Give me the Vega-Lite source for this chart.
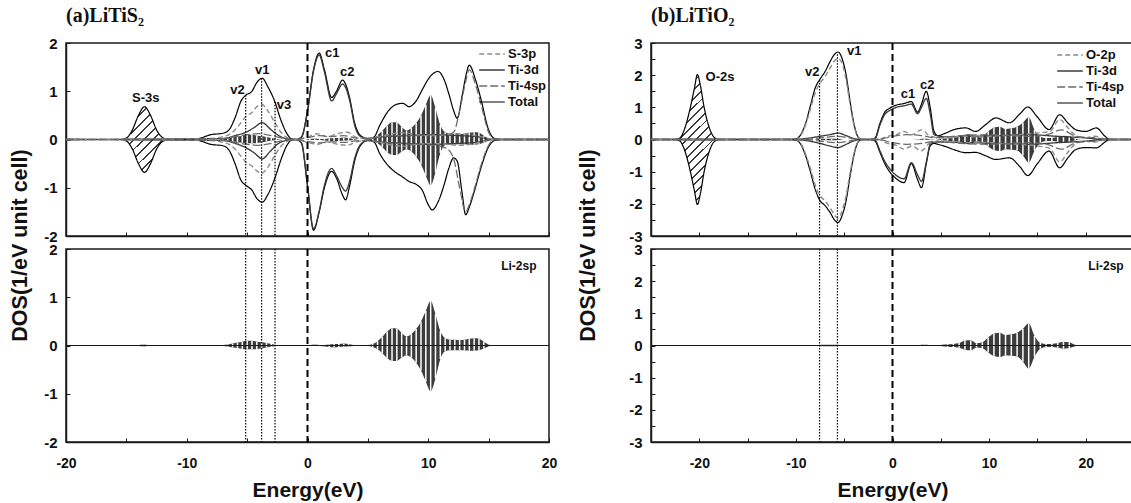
{
"$schema":"https://vega.github.io/schema/vega-lite/v6.json",
"background":"white",
"padding":{"left":8,"top":5,"right":0,"bottom":0},
"config":{
 "font":"Liberation Sans",
 "view":{"stroke":"#1a1a1a","strokeWidth":1.5},
 "axis":{"grid":false,"domainColor":"#1a1a1a","domainWidth":1.5,"tickColor":"#1a1a1a","tickWidth":1,"labelFont":"Liberation Sans","labelFontWeight":"bold","labelColor":"#111","labelFlush":false,"labelOverlap":false,"titleFont":"Liberation Sans","titleFontWeight":"bold","titleColor":"#111"},
 "legend":{"orient":"top-right","offset":2,"padding":0,"labelFont":"Liberation Sans","labelFontWeight":"bold","labelFontSize":13,"labelColor":"#111","symbolType":"M-1.6,0L1.6,0","symbolSize":256,"rowPadding":0,"labelOffset":7}
},
"datasets":{
 "ap":[
  {"x":-20,"s":"Total","u":0,"d":0},{"x":-15.5,"s":"Total","u":0,"d":0},{"x":-15,"s":"Total","u":0.03,"d":-0.03},{"x":-14.5,"s":"Total","u":0.2,"d":-0.2},{"x":-14,"s":"Total","u":0.5,"d":-0.5},{"x":-13.5,"s":"Total","u":0.68,"d":-0.68},{"x":-13,"s":"Total","u":0.5,"d":-0.5},{"x":-12.5,"s":"Total","u":0.2,"d":-0.2},{"x":-12,"s":"Total","u":0.04,"d":-0.04},{"x":-11.5,"s":"Total","u":0,"d":0},{"x":-9.5,"s":"Total","u":0,"d":0},{"x":-9,"s":"Total","u":0.02,"d":-0.02},{"x":-8,"s":"Total","u":0.1,"d":-0.1},{"x":-7,"s":"Total","u":0.13,"d":-0.13},{"x":-6.5,"s":"Total","u":0.2,"d":-0.22},{"x":-6,"s":"Total","u":0.45,"d":-0.5},{"x":-5.5,"s":"Total","u":0.8,"d":-0.85},{"x":-5.1,"s":"Total","u":0.92,"d":-0.95},{"x":-4.6,"s":"Total","u":1.0,"d":-1.05},{"x":-4.2,"s":"Total","u":1.18,"d":-1.22},{"x":-3.75,"s":"Total","u":1.27,"d":-1.3},{"x":-3.3,"s":"Total","u":1.1,"d":-1.15},{"x":-2.7,"s":"Total","u":0.78,"d":-0.8},{"x":-2.2,"s":"Total","u":0.4,"d":-0.42},{"x":-1.7,"s":"Total","u":0.12,"d":-0.12},{"x":-1.3,"s":"Total","u":0.01,"d":-0.01},{"x":-0.9,"s":"Total","u":0,"d":0},{"x":-0.5,"s":"Total","u":0.05,"d":-0.08},{"x":0,"s":"Total","u":0.6,"d":-0.97},{"x":0.5,"s":"Total","u":1.45,"d":-1.88},{"x":0.97,"s":"Total","u":1.79,"d":-1.5},{"x":1.4,"s":"Total","u":1.45,"d":-1.0},{"x":2,"s":"Total","u":0.87,"d":-0.66},{"x":2.4,"s":"Total","u":1.0,"d":-0.8},{"x":2.9,"s":"Total","u":1.23,"d":-1.15},{"x":3.15,"s":"Total","u":1.15,"d":-1.25},{"x":3.5,"s":"Total","u":0.85,"d":-0.95},{"x":3.9,"s":"Total","u":0.35,"d":-0.45},{"x":4.4,"s":"Total","u":0.08,"d":-0.12},{"x":5,"s":"Total","u":0.02,"d":-0.02},{"x":5.5,"s":"Total","u":0.05,"d":-0.05},{"x":6,"s":"Total","u":0.3,"d":-0.3},{"x":6.75,"s":"Total","u":0.61,"d":-0.56},{"x":7.4,"s":"Total","u":0.73,"d":-0.7},{"x":7.9,"s":"Total","u":0.75,"d":-0.78},{"x":8.4,"s":"Total","u":0.68,"d":-0.87},{"x":9,"s":"Total","u":0.8,"d":-0.93},{"x":9.5,"s":"Total","u":1.03,"d":-1.05},{"x":10,"s":"Total","u":1.25,"d":-1.35},{"x":10.33,"s":"Total","u":1.35,"d":-1.46},{"x":10.8,"s":"Total","u":1.41,"d":-1.3},{"x":11.3,"s":"Total","u":1.25,"d":-0.95},{"x":11.7,"s":"Total","u":0.95,"d":-0.6},{"x":12.1,"s":"Total","u":0.6,"d":-0.38},{"x":12.4,"s":"Total","u":0.44,"d":-0.45},{"x":12.8,"s":"Total","u":0.9,"d":-1.1},{"x":13.1,"s":"Total","u":1.3,"d":-1.56},{"x":13.4,"s":"Total","u":1.54,"d":-1.4},{"x":13.9,"s":"Total","u":1.25,"d":-1.0},{"x":14.35,"s":"Total","u":0.85,"d":-0.6},{"x":15,"s":"Total","u":0.2,"d":-0.15},{"x":15.5,"s":"Total","u":0.02,"d":-0.02},{"x":16,"s":"Total","u":0,"d":0},{"x":20,"s":"Total","u":0,"d":0},
  {"x":-20,"s":"Ti-3d","u":0,"d":0},{"x":-7,"s":"Ti-3d","u":0.02,"d":-0.02},{"x":-6,"s":"Ti-3d","u":0.08,"d":-0.08},{"x":-5.1,"s":"Ti-3d","u":0.15,"d":-0.17},{"x":-4.4,"s":"Ti-3d","u":0.25,"d":-0.28},{"x":-3.75,"s":"Ti-3d","u":0.35,"d":-0.4},{"x":-3.1,"s":"Ti-3d","u":0.22,"d":-0.25},{"x":-2.5,"s":"Ti-3d","u":0.1,"d":-0.1},{"x":-1.8,"s":"Ti-3d","u":0.02,"d":-0.02},{"x":-1,"s":"Ti-3d","u":0,"d":0},{"x":-0.5,"s":"Ti-3d","u":0.05,"d":-0.07},{"x":0,"s":"Ti-3d","u":0.58,"d":-0.95},{"x":0.5,"s":"Ti-3d","u":1.42,"d":-1.85},{"x":0.97,"s":"Ti-3d","u":1.75,"d":-1.48},{"x":1.4,"s":"Ti-3d","u":1.4,"d":-0.95},{"x":2,"s":"Ti-3d","u":0.8,"d":-0.6},{"x":2.4,"s":"Ti-3d","u":0.95,"d":-0.75},{"x":2.9,"s":"Ti-3d","u":1.15,"d":-1.0},{"x":3.15,"s":"Ti-3d","u":1.08,"d":-1.07},{"x":3.5,"s":"Ti-3d","u":0.8,"d":-0.85},{"x":3.9,"s":"Ti-3d","u":0.3,"d":-0.4},{"x":4.4,"s":"Ti-3d","u":0.06,"d":-0.1},{"x":5,"s":"Ti-3d","u":0.02,"d":-0.02},{"x":6,"s":"Ti-3d","u":0.05,"d":-0.05},{"x":8,"s":"Ti-3d","u":0.08,"d":-0.08},{"x":10.5,"s":"Ti-3d","u":0.1,"d":-0.1},{"x":12.5,"s":"Ti-3d","u":0.08,"d":-0.08},{"x":14,"s":"Ti-3d","u":0.06,"d":-0.06},{"x":15.5,"s":"Ti-3d","u":0,"d":0},{"x":20,"s":"Ti-3d","u":0,"d":0},
  {"x":-20,"s":"S-3p","u":0,"d":0},{"x":-8,"s":"S-3p","u":0.02,"d":-0.02},{"x":-7,"s":"S-3p","u":0.06,"d":-0.06},{"x":-6.5,"s":"S-3p","u":0.1,"d":-0.1},{"x":-6,"s":"S-3p","u":0.2,"d":-0.2},{"x":-5.5,"s":"S-3p","u":0.35,"d":-0.35},{"x":-5.1,"s":"S-3p","u":0.48,"d":-0.47},{"x":-4.6,"s":"S-3p","u":0.56,"d":-0.55},{"x":-4.2,"s":"S-3p","u":0.68,"d":-0.65},{"x":-3.8,"s":"S-3p","u":0.73,"d":-0.7},{"x":-3.3,"s":"S-3p","u":0.6,"d":-0.58},{"x":-2.7,"s":"S-3p","u":0.35,"d":-0.33},{"x":-2.2,"s":"S-3p","u":0.15,"d":-0.14},{"x":-1.6,"s":"S-3p","u":0.03,"d":-0.03},{"x":-1,"s":"S-3p","u":0,"d":0},{"x":0,"s":"S-3p","u":0.05,"d":-0.06},{"x":0.8,"s":"S-3p","u":0.12,"d":-0.1},{"x":1.6,"s":"S-3p","u":0.06,"d":-0.05},{"x":2.5,"s":"S-3p","u":0.12,"d":-0.1},{"x":3.3,"s":"S-3p","u":0.15,"d":-0.12},{"x":4,"s":"S-3p","u":0.05,"d":-0.05},{"x":5,"s":"S-3p","u":0.02,"d":-0.02},{"x":6,"s":"S-3p","u":0.06,"d":-0.06},{"x":7,"s":"S-3p","u":0.12,"d":-0.12},{"x":8,"s":"S-3p","u":0.14,"d":-0.14},{"x":9,"s":"S-3p","u":0.1,"d":-0.1},{"x":10.3,"s":"S-3p","u":0.08,"d":-0.08},{"x":11.5,"s":"S-3p","u":0.1,"d":-0.1},{"x":12.5,"s":"S-3p","u":0.12,"d":-0.12},{"x":13.5,"s":"S-3p","u":0.1,"d":-0.1},{"x":14.5,"s":"S-3p","u":0.05,"d":-0.05},{"x":15.5,"s":"S-3p","u":0,"d":0},{"x":20,"s":"S-3p","u":0,"d":0},
  {"x":-20,"s":"Ti-4sp","u":0,"d":0},{"x":-7,"s":"Ti-4sp","u":0.02,"d":-0.02},{"x":-6,"s":"Ti-4sp","u":0.06,"d":-0.06},{"x":-5,"s":"Ti-4sp","u":0.1,"d":-0.1},{"x":-4,"s":"Ti-4sp","u":0.12,"d":-0.12},{"x":-3,"s":"Ti-4sp","u":0.08,"d":-0.08},{"x":-2,"s":"Ti-4sp","u":0.02,"d":-0.02},{"x":-1,"s":"Ti-4sp","u":0,"d":0},{"x":0,"s":"Ti-4sp","u":0.04,"d":-0.04},{"x":1,"s":"Ti-4sp","u":0.08,"d":-0.07},{"x":2,"s":"Ti-4sp","u":0.06,"d":-0.05},{"x":3,"s":"Ti-4sp","u":0.08,"d":-0.06},{"x":4,"s":"Ti-4sp","u":0.03,"d":-0.03},{"x":5,"s":"Ti-4sp","u":0.02,"d":-0.02},{"x":6,"s":"Ti-4sp","u":0.05,"d":-0.05},{"x":7.5,"s":"Ti-4sp","u":0.08,"d":-0.08},{"x":9,"s":"Ti-4sp","u":0.08,"d":-0.1},{"x":10.5,"s":"Ti-4sp","u":0.1,"d":-0.12},{"x":11.5,"s":"Ti-4sp","u":0.1,"d":-0.18},{"x":12.1,"s":"Ti-4sp","u":0.15,"d":-0.4},{"x":12.6,"s":"Ti-4sp","u":0.6,"d":-1.0},{"x":13.1,"s":"Ti-4sp","u":1.2,"d":-1.5},{"x":13.4,"s":"Ti-4sp","u":1.45,"d":-1.35},{"x":13.9,"s":"Ti-4sp","u":1.15,"d":-0.95},{"x":14.35,"s":"Ti-4sp","u":0.75,"d":-0.55},{"x":15,"s":"Ti-4sp","u":0.15,"d":-0.12},{"x":15.5,"s":"Ti-4sp","u":0,"d":0},{"x":20,"s":"Ti-4sp","u":0,"d":0}
 ],
 "bp":[
  {"x":-25,"s":"Total","u":0,"d":0},{"x":-22.5,"s":"Total","u":0,"d":0},{"x":-22,"s":"Total","u":0.05,"d":-0.05},{"x":-21.5,"s":"Total","u":0.35,"d":-0.35},{"x":-21,"s":"Total","u":0.9,"d":-0.9},{"x":-20.5,"s":"Total","u":1.6,"d":-1.6},{"x":-20.2,"s":"Total","u":2.02,"d":-2.02},{"x":-19.9,"s":"Total","u":1.7,"d":-1.7},{"x":-19.5,"s":"Total","u":1.0,"d":-1.0},{"x":-19,"s":"Total","u":0.4,"d":-0.4},{"x":-18.5,"s":"Total","u":0.08,"d":-0.08},{"x":-18,"s":"Total","u":0,"d":0},{"x":-10.5,"s":"Total","u":0,"d":0},{"x":-10,"s":"Total","u":0.02,"d":-0.02},{"x":-9.5,"s":"Total","u":0.15,"d":-0.15},{"x":-9,"s":"Total","u":0.5,"d":-0.5},{"x":-8.5,"s":"Total","u":1.05,"d":-1.0},{"x":-8,"s":"Total","u":1.6,"d":-1.55},{"x":-7.5,"s":"Total","u":1.88,"d":-1.9},{"x":-7,"s":"Total","u":2.1,"d":-2.05},{"x":-6.5,"s":"Total","u":2.4,"d":-2.25},{"x":-6,"s":"Total","u":2.65,"d":-2.5},{"x":-5.64,"s":"Total","u":2.72,"d":-2.58},{"x":-5.2,"s":"Total","u":2.5,"d":-2.35},{"x":-4.8,"s":"Total","u":2.0,"d":-1.9},{"x":-4.4,"s":"Total","u":1.2,"d":-1.15},{"x":-4,"s":"Total","u":0.5,"d":-0.5},{"x":-3.6,"s":"Total","u":0.1,"d":-0.1},{"x":-3.2,"s":"Total","u":0,"d":0},{"x":-2.2,"s":"Total","u":0,"d":0},{"x":-1.8,"s":"Total","u":0.05,"d":-0.05},{"x":-1.3,"s":"Total","u":0.5,"d":-0.4},{"x":-0.8,"s":"Total","u":0.85,"d":-0.75},{"x":-0.3,"s":"Total","u":0.97,"d":-1.0},{"x":0.4,"s":"Total","u":1.07,"d":-1.22},{"x":1.2,"s":"Total","u":1.12,"d":-1.34},{"x":1.95,"s":"Total","u":1.18,"d":-0.75},{"x":2.6,"s":"Total","u":0.85,"d":-1.25},{"x":3,"s":"Total","u":1.1,"d":-1.5},{"x":3.5,"s":"Total","u":1.5,"d":-0.75},{"x":3.9,"s":"Total","u":1.0,"d":-0.2},{"x":4.3,"s":"Total","u":0.25,"d":-0.12},{"x":4.7,"s":"Total","u":0.12,"d":-0.15},{"x":5.5,"s":"Total","u":0.2,"d":-0.22},{"x":6.5,"s":"Total","u":0.32,"d":-0.33},{"x":7.6,"s":"Total","u":0.36,"d":-0.41},{"x":8.6,"s":"Total","u":0.25,"d":-0.4},{"x":9.6,"s":"Total","u":0.45,"d":-0.5},{"x":10.7,"s":"Total","u":0.67,"d":-0.62},{"x":12.1,"s":"Total","u":0.52,"d":-0.57},{"x":13.2,"s":"Total","u":0.8,"d":-0.85},{"x":14,"s":"Total","u":1.01,"d":-1.12},{"x":15,"s":"Total","u":0.7,"d":-0.75},{"x":16.2,"s":"Total","u":0.31,"d":-0.36},{"x":17.3,"s":"Total","u":0.77,"d":-0.88},{"x":18.2,"s":"Total","u":0.5,"d":-0.55},{"x":19,"s":"Total","u":0.3,"d":-0.31},{"x":20,"s":"Total","u":0.25,"d":-0.25},{"x":21.1,"s":"Total","u":0.36,"d":-0.26},{"x":22,"s":"Total","u":0.1,"d":-0.08},{"x":22.5,"s":"Total","u":0,"d":0},{"x":25,"s":"Total","u":0,"d":0},
  {"x":-25,"s":"Ti-3d","u":0,"d":0},{"x":-10,"s":"Ti-3d","u":0,"d":0},{"x":-9,"s":"Ti-3d","u":0.03,"d":-0.03},{"x":-7.5,"s":"Ti-3d","u":0.1,"d":-0.12},{"x":-6.5,"s":"Ti-3d","u":0.15,"d":-0.2},{"x":-5.64,"s":"Ti-3d","u":0.2,"d":-0.25},{"x":-4.8,"s":"Ti-3d","u":0.12,"d":-0.15},{"x":-4,"s":"Ti-3d","u":0.03,"d":-0.04},{"x":-3.2,"s":"Ti-3d","u":0,"d":0},{"x":-1.8,"s":"Ti-3d","u":0.03,"d":-0.03},{"x":-1.3,"s":"Ti-3d","u":0.45,"d":-0.35},{"x":-0.8,"s":"Ti-3d","u":0.78,"d":-0.68},{"x":-0.3,"s":"Ti-3d","u":0.9,"d":-0.9},{"x":0.4,"s":"Ti-3d","u":1.0,"d":-1.12},{"x":1.2,"s":"Ti-3d","u":1.05,"d":-1.22},{"x":1.95,"s":"Ti-3d","u":1.1,"d":-0.72},{"x":2.6,"s":"Ti-3d","u":0.8,"d":-1.1},{"x":3,"s":"Ti-3d","u":1.0,"d":-1.3},{"x":3.5,"s":"Ti-3d","u":1.28,"d":-0.7},{"x":3.9,"s":"Ti-3d","u":0.8,"d":-0.15},{"x":4.3,"s":"Ti-3d","u":0.15,"d":-0.08},{"x":5.5,"s":"Ti-3d","u":0.08,"d":-0.08},{"x":8,"s":"Ti-3d","u":0.1,"d":-0.1},{"x":11,"s":"Ti-3d","u":0.12,"d":-0.12},{"x":14,"s":"Ti-3d","u":0.15,"d":-0.15},{"x":17,"s":"Ti-3d","u":0.1,"d":-0.1},{"x":20,"s":"Ti-3d","u":0.05,"d":-0.05},{"x":22,"s":"Ti-3d","u":0,"d":0},{"x":25,"s":"Ti-3d","u":0,"d":0},
  {"x":-25,"s":"O-2p","u":0,"d":0},{"x":-10,"s":"O-2p","u":0,"d":0},{"x":-9.5,"s":"O-2p","u":0.12,"d":-0.12},{"x":-9,"s":"O-2p","u":0.45,"d":-0.45},{"x":-8.5,"s":"O-2p","u":0.95,"d":-0.9},{"x":-8,"s":"O-2p","u":1.45,"d":-1.42},{"x":-7.5,"s":"O-2p","u":1.75,"d":-1.75},{"x":-7,"s":"O-2p","u":1.95,"d":-1.9},{"x":-6.5,"s":"O-2p","u":2.2,"d":-2.1},{"x":-6,"s":"O-2p","u":2.45,"d":-2.35},{"x":-5.64,"s":"O-2p","u":2.52,"d":-2.45},{"x":-5.2,"s":"O-2p","u":2.35,"d":-2.2},{"x":-4.8,"s":"O-2p","u":1.85,"d":-1.75},{"x":-4.4,"s":"O-2p","u":1.1,"d":-1.05},{"x":-4,"s":"O-2p","u":0.45,"d":-0.45},{"x":-3.6,"s":"O-2p","u":0.08,"d":-0.08},{"x":-3.2,"s":"O-2p","u":0,"d":0},{"x":-1.5,"s":"O-2p","u":0,"d":0},{"x":-0.5,"s":"O-2p","u":0.1,"d":-0.12},{"x":0.4,"s":"O-2p","u":0.15,"d":-0.18},{"x":1.2,"s":"O-2p","u":0.25,"d":-0.3},{"x":2,"s":"O-2p","u":0.15,"d":-0.2},{"x":3,"s":"O-2p","u":0.3,"d":-0.35},{"x":3.9,"s":"O-2p","u":0.1,"d":-0.1},{"x":5,"s":"O-2p","u":0.05,"d":-0.05},{"x":7,"s":"O-2p","u":0.1,"d":-0.1},{"x":9,"s":"O-2p","u":0.08,"d":-0.08},{"x":11,"s":"O-2p","u":0.12,"d":-0.12},{"x":13,"s":"O-2p","u":0.15,"d":-0.15},{"x":15,"s":"O-2p","u":0.2,"d":-0.2},{"x":16.3,"s":"O-2p","u":0.25,"d":-0.28},{"x":17.3,"s":"O-2p","u":0.62,"d":-0.7},{"x":18.2,"s":"O-2p","u":0.35,"d":-0.38},{"x":19,"s":"O-2p","u":0.12,"d":-0.12},{"x":20,"s":"O-2p","u":0.05,"d":-0.05},{"x":21,"s":"O-2p","u":0.1,"d":-0.08},{"x":22,"s":"O-2p","u":0,"d":0},{"x":25,"s":"O-2p","u":0,"d":0},
  {"x":-25,"s":"Ti-4sp","u":0,"d":0},{"x":-9,"s":"Ti-4sp","u":0,"d":0},{"x":-7.5,"s":"Ti-4sp","u":0.05,"d":-0.05},{"x":-5.6,"s":"Ti-4sp","u":0.1,"d":-0.1},{"x":-4,"s":"Ti-4sp","u":0.02,"d":-0.02},{"x":-3,"s":"Ti-4sp","u":0,"d":0},{"x":-1.5,"s":"Ti-4sp","u":0,"d":0},{"x":0,"s":"Ti-4sp","u":0.1,"d":-0.1},{"x":1.5,"s":"Ti-4sp","u":0.15,"d":-0.15},{"x":3,"s":"Ti-4sp","u":0.12,"d":-0.12},{"x":4.5,"s":"Ti-4sp","u":0.05,"d":-0.05},{"x":7,"s":"Ti-4sp","u":0.12,"d":-0.12},{"x":10,"s":"Ti-4sp","u":0.15,"d":-0.15},{"x":12,"s":"Ti-4sp","u":0.12,"d":-0.12},{"x":14,"s":"Ti-4sp","u":0.1,"d":-0.1},{"x":16,"s":"Ti-4sp","u":0.15,"d":-0.15},{"x":17.5,"s":"Ti-4sp","u":0.3,"d":-0.3},{"x":19,"s":"Ti-4sp","u":0.1,"d":-0.1},{"x":21,"s":"Ti-4sp","u":0.05,"d":-0.05},{"x":22.5,"s":"Ti-4sp","u":0,"d":0},{"x":25,"s":"Ti-4sp","u":0,"d":0}
 ],
 "al":[
  {"x":-20,"u":0,"d":0},{"x":-14.4,"u":0,"d":0},{"x":-13.6,"u":0.02,"d":-0.02},{"x":-12.8,"u":0,"d":0},{"x":-7.4,"u":0,"d":0},{"x":-7,"u":0.01,"d":-0.01},{"x":-6.6,"u":0.02,"d":-0.02},{"x":-6.2,"u":0.04,"d":-0.04},{"x":-5.8,"u":0.06,"d":-0.05},{"x":-5.4,"u":0.08,"d":-0.07},{"x":-5,"u":0.1,"d":-0.08},{"x":-4.6,"u":0.1,"d":-0.08},{"x":-4.2,"u":0.08,"d":-0.07},{"x":-3.8,"u":0.07,"d":-0.06},{"x":-3.4,"u":0.05,"d":-0.04},{"x":-3,"u":0.03,"d":-0.02},{"x":-2.6,"u":0.01,"d":-0.01},{"x":-2.2,"u":0,"d":0},{"x":-0.2,"u":0,"d":0},{"x":0.2,"u":0.01,"d":-0.01},{"x":0.6,"u":0.02,"d":-0.01},{"x":1,"u":0.01,"d":-0.01},{"x":1.4,"u":0.01,"d":-0.02},{"x":1.8,"u":0.02,"d":-0.03},{"x":2.2,"u":0.03,"d":-0.04},{"x":2.6,"u":0.03,"d":-0.03},{"x":3,"u":0.04,"d":-0.02},{"x":3.4,"u":0.03,"d":-0.02},{"x":3.8,"u":0.01,"d":-0.01},{"x":4.2,"u":0,"d":0},{"x":4.6,"u":0,"d":0},{"x":5,"u":0.01,"d":-0.01},{"x":5.4,"u":0.03,"d":-0.03},{"x":5.8,"u":0.09,"d":-0.08},{"x":6.2,"u":0.18,"d":-0.16},{"x":6.6,"u":0.29,"d":-0.26},{"x":7,"u":0.36,"d":-0.32},{"x":7.4,"u":0.35,"d":-0.32},{"x":7.8,"u":0.26,"d":-0.25},{"x":8.2,"u":0.19,"d":-0.2},{"x":8.6,"u":0.24,"d":-0.25},{"x":9,"u":0.34,"d":-0.36},{"x":9.4,"u":0.5,"d":-0.52},{"x":9.8,"u":0.72,"d":-0.75},{"x":10.2,"u":0.92,"d":-0.95},{"x":10.6,"u":0.65,"d":-0.68},{"x":11,"u":0.3,"d":-0.28},{"x":11.4,"u":0.15,"d":-0.12},{"x":11.8,"u":0.12,"d":-0.1},{"x":12.2,"u":0.12,"d":-0.1},{"x":12.6,"u":0.11,"d":-0.1},{"x":13,"u":0.12,"d":-0.1},{"x":13.4,"u":0.14,"d":-0.11},{"x":13.8,"u":0.15,"d":-0.11},{"x":14.2,"u":0.14,"d":-0.1},{"x":14.6,"u":0.08,"d":-0.06},{"x":15,"u":0.02,"d":-0.02},{"x":15.4,"u":0,"d":0},{"x":20,"u":0,"d":0}
 ],
 "bl":[
  {"x":-25,"u":0,"d":0},{"x":-8.1,"u":0,"d":0},{"x":-7.5,"u":0.02,"d":-0.02},{"x":-6.9,"u":0.02,"d":-0.02},{"x":-6.3,"u":0.02,"d":-0.02},{"x":-5.7,"u":0.02,"d":-0.02},{"x":-5.1,"u":0,"d":0},{"x":2.1,"u":0,"d":0},{"x":2.7,"u":0.01,"d":-0.01},{"x":3.3,"u":0.02,"d":-0.01},{"x":3.9,"u":0.01,"d":-0.01},{"x":4.5,"u":0,"d":0},{"x":5.1,"u":0.02,"d":-0.02},{"x":5.7,"u":0.04,"d":-0.04},{"x":6.3,"u":0.05,"d":-0.05},{"x":6.9,"u":0.08,"d":-0.07},{"x":7.5,"u":0.15,"d":-0.13},{"x":8.1,"u":0.16,"d":-0.15},{"x":8.7,"u":0.07,"d":-0.06},{"x":9.3,"u":0.1,"d":-0.08},{"x":9.9,"u":0.25,"d":-0.22},{"x":10.5,"u":0.37,"d":-0.33},{"x":11.1,"u":0.4,"d":-0.36},{"x":11.7,"u":0.33,"d":-0.3},{"x":12.3,"u":0.35,"d":-0.32},{"x":12.9,"u":0.4,"d":-0.34},{"x":13.5,"u":0.52,"d":-0.5},{"x":14.1,"u":0.69,"d":-0.72},{"x":14.7,"u":0.3,"d":-0.35},{"x":15.3,"u":0.08,"d":-0.1},{"x":15.9,"u":0.05,"d":-0.05},{"x":16.5,"u":0.05,"d":-0.05},{"x":17.1,"u":0.08,"d":-0.07},{"x":17.7,"u":0.12,"d":-0.1},{"x":18.3,"u":0.1,"d":-0.08},{"x":18.9,"u":0.02,"d":-0.02},{"x":19.5,"u":0,"d":0},{"x":21,"u":0,"d":0},{"x":21.6,"u":0.01,"d":-0.01},{"x":22.2,"u":0,"d":0},{"x":25,"u":0,"d":0}
 ],
 "as":[
  {"x":-15.5,"u":0,"d":0},{"x":-15,"u":0.03,"d":-0.03},{"x":-14.5,"u":0.2,"d":-0.2},{"x":-14,"u":0.5,"d":-0.5},{"x":-13.5,"u":0.68,"d":-0.68},{"x":-13,"u":0.5,"d":-0.5},{"x":-12.5,"u":0.2,"d":-0.2},{"x":-12,"u":0.04,"d":-0.04},{"x":-11.5,"u":0,"d":0}
 ],
 "bs":[
  {"x":-22.5,"u":0,"d":0},{"x":-22,"u":0.05,"d":-0.05},{"x":-21.5,"u":0.35,"d":-0.35},{"x":-21,"u":0.9,"d":-0.9},{"x":-20.5,"u":1.6,"d":-1.6},{"x":-20.2,"u":2.02,"d":-2.02},{"x":-19.9,"u":1.7,"d":-1.7},{"x":-19.5,"u":1.0,"d":-1.0},{"x":-19,"u":0.4,"d":-0.4},{"x":-18.5,"u":0.08,"d":-0.08},{"x":-18,"u":0,"d":0}
 ],
 "av":[{"x":-5.12,"top":0.92},{"x":-3.8,"top":1.27},{"x":-2.69,"top":0.78}],
 "bv":[{"x":-7.55,"top":1.85},{"x":-5.7,"top":2.65}],
 "at":[{"x":-13.4,"y":0.85,"t":"S-3s"},{"x":-5.8,"y":1.03,"t":"v2"},{"x":-3.74,"y":1.44,"t":"v1"},{"x":-1.94,"y":0.72,"t":"v3"},{"x":2.05,"y":1.79,"t":"c1"},{"x":3.3,"y":1.4,"t":"c2"}],
 "bt":[{"x":-17.85,"y":1.94,"t":"O-2s"},{"x":-8.3,"y":2.11,"t":"v2"},{"x":-3.95,"y":2.75,"t":"v1"},{"x":1.6,"y":1.42,"t":"c1"},{"x":3.6,"y":1.7,"t":"c2"}]
},
"resolve":{"scale":{"x":"independent","y":"independent","color":"independent","strokeDash":"independent","strokeWidth":"independent"},"legend":{"color":"independent","strokeDash":"independent","strokeWidth":"independent"}},
"spacing":18,
"hconcat":[
{"vconcat":[
 {"width":483,"height":193,
  "title":{"text":"(a)LiTiS₂","anchor":"start","frame":"group","font":"Liberation Serif","fontSize":20,"fontWeight":"bold","color":"#111","offset":-6,"baseline":"alphabetic"},
  "layer":[
   {"data":{"name":"al"},"mark":{"type":"area","interpolate":"monotone","color":"#3c3c3c"},
    "encoding":{
     "x":{"field":"x","type":"quantitative","scale":{"domain":[-20,20],"nice":false,"zero":false},"axis":{"values":[-20,-15,-10,-5,0,5,10,15,20],"labels":false,"tickSize":-4,"title":null}},
     "y":{"field":"u","type":"quantitative","scale":{"domain":[-2,2],"nice":false,"zero":false},"axis":{"values":[-2,-1.5,-1,-0.5,0,0.5,1,1.5,2],"labelExpr":"datum.value % 1 == 0 ? '' + datum.value : ''","labelFontSize":15,"labelOverlap":false,"tickSize":-4,"labelPadding":13,"title":"DOS(1/eV unit cell)","titleFontSize":21.5,"titleX":-35,"titleY":202}},
     "y2":{"field":"d"}}},
   {"data":{"name":"al"},"mark":{"type":"rule","color":"white","strokeWidth":1.5},
    "encoding":{"x":{"field":"x","type":"quantitative"},"y":{"field":"u","type":"quantitative"},"y2":{"field":"d"}}},
   {"data":{"name":"as"},"mark":{"type":"area","interpolate":"monotone","fill":{"gradient":"linear","x1":0,"y1":0,"x2":0.825,"y2":1.13,"stops":[
     {"offset":0,"color":"#fff"},{"offset":0.0667,"color":"#fff"},{"offset":0.0667,"color":"#3a3a3a"},{"offset":0.0833,"color":"#3a3a3a"},
     {"offset":0.0833,"color":"#fff"},{"offset":0.15,"color":"#fff"},{"offset":0.15,"color":"#3a3a3a"},{"offset":0.1667,"color":"#3a3a3a"},
     {"offset":0.1667,"color":"#fff"},{"offset":0.2333,"color":"#fff"},{"offset":0.2333,"color":"#3a3a3a"},{"offset":0.25,"color":"#3a3a3a"},
     {"offset":0.25,"color":"#fff"},{"offset":0.3167,"color":"#fff"},{"offset":0.3167,"color":"#3a3a3a"},{"offset":0.3333,"color":"#3a3a3a"},
     {"offset":0.3333,"color":"#fff"},{"offset":0.4,"color":"#fff"},{"offset":0.4,"color":"#3a3a3a"},{"offset":0.4167,"color":"#3a3a3a"},
     {"offset":0.4167,"color":"#fff"},{"offset":0.4833,"color":"#fff"},{"offset":0.4833,"color":"#3a3a3a"},{"offset":0.5,"color":"#3a3a3a"},
     {"offset":0.5,"color":"#fff"},{"offset":0.5667,"color":"#fff"},{"offset":0.5667,"color":"#3a3a3a"},{"offset":0.5833,"color":"#3a3a3a"},
     {"offset":0.5833,"color":"#fff"},{"offset":0.65,"color":"#fff"},{"offset":0.65,"color":"#3a3a3a"},{"offset":0.6667,"color":"#3a3a3a"},
     {"offset":0.6667,"color":"#fff"},{"offset":0.7333,"color":"#fff"},{"offset":0.7333,"color":"#3a3a3a"},{"offset":0.75,"color":"#3a3a3a"},
     {"offset":0.75,"color":"#fff"},{"offset":0.8167,"color":"#fff"},{"offset":0.8167,"color":"#3a3a3a"},{"offset":0.8333,"color":"#3a3a3a"},
     {"offset":0.8333,"color":"#fff"},{"offset":0.9,"color":"#fff"},{"offset":0.9,"color":"#3a3a3a"},{"offset":0.9167,"color":"#3a3a3a"},
     {"offset":0.9167,"color":"#fff"},{"offset":0.9833,"color":"#fff"},{"offset":0.9833,"color":"#3a3a3a"},{"offset":1,"color":"#3a3a3a"}]}},
    "encoding":{"x":{"field":"x","type":"quantitative"},"y":{"field":"u","type":"quantitative"},"y2":{"field":"d"}}},
   {"data":{"name":"ap"},"mark":{"type":"line","interpolate":"monotone"},
    "encoding":{"x":{"field":"x","type":"quantitative"},"y":{"field":"u","type":"quantitative"},
     "color":{"field":"s","type":"ordinal","scale":{"domain":["S-3p","Ti-3d","Ti-4sp","Total"],"range":["#8c8c8c","#3a3a3a","#6a6a6a","#000000"]},"legend":{"title":null,"orient":"top-right"}},
     "strokeDash":{"field":"s","type":"ordinal","scale":{"domain":["S-3p","Ti-3d","Ti-4sp","Total"],"range":[[5,3],[1,0],[8,3],[1,0]]},"legend":{"title":null,"orient":"top-right"}},
     "strokeWidth":{"field":"s","type":"ordinal","scale":{"domain":["S-3p","Ti-3d","Ti-4sp","Total"],"range":[1.4,1.2,1.4,2.5]},"legend":{"title":null,"orient":"top-right"}}}},
   {"data":{"name":"ap"},"mark":{"type":"line","interpolate":"monotone"},
    "encoding":{"x":{"field":"x","type":"quantitative"},"y":{"field":"d","type":"quantitative"},
     "color":{"field":"s","type":"ordinal","scale":{"domain":["S-3p","Ti-3d","Ti-4sp","Total"],"range":["#8c8c8c","#3a3a3a","#6a6a6a","#000000"]},"legend":{"title":null,"orient":"top-right"}},
     "strokeDash":{"field":"s","type":"ordinal","scale":{"domain":["S-3p","Ti-3d","Ti-4sp","Total"],"range":[[5,3],[1,0],[8,3],[1,0]]},"legend":{"title":null,"orient":"top-right"}},
     "strokeWidth":{"field":"s","type":"ordinal","scale":{"domain":["S-3p","Ti-3d","Ti-4sp","Total"],"range":[1.4,1.2,1.4,2.5]},"legend":{"title":null,"orient":"top-right"}}}},
   {"data":{"values":[{"x":0}]},"mark":{"type":"rule","color":"black","strokeWidth":2,"strokeDash":[7,4]},
    "encoding":{"x":{"field":"x","type":"quantitative"}}},
   {"data":{"name":"av"},"mark":{"type":"rule","color":"black","strokeWidth":1.2,"strokeDash":[1.5,1.5]},
    "encoding":{"x":{"field":"x","type":"quantitative"},"y":{"field":"top","type":"quantitative"},"y2":{"datum":-2}}},
   {"data":{"name":"at"},"mark":{"type":"text","font":"Liberation Sans","fontWeight":"bold","fontSize":13,"color":"#111","align":"center","baseline":"middle"},
    "encoding":{"x":{"field":"x","type":"quantitative"},"y":{"field":"y","type":"quantitative"},"text":{"field":"t"}}}
  ]},
 {"width":483,"height":193,
  "layer":[
   {"data":{"name":"al"},"mark":{"type":"area","interpolate":"monotone","color":"#3c3c3c"},
    "encoding":{
     "x":{"field":"x","type":"quantitative","scale":{"domain":[-20,20],"nice":false,"zero":false},"axis":{"values":[-20,-15,-10,-5,0,5,10,15,20],"labelExpr":"datum.value % 10 == 0 ? '' + datum.value : ''","labelOverlap":false,"tickSize":-4,"labelPadding":18,"labelFontSize":14,"title":"Energy(eV)","titleFontSize":21,"titlePadding":9}},
     "y":{"field":"u","type":"quantitative","scale":{"domain":[-2,2],"nice":false,"zero":false},"axis":{"values":[-2,-1.5,-1,-0.5,0,0.5,1,1.5,2],"labelExpr":"datum.value % 1 == 0 ? '' + datum.value : ''","labelFontSize":15,"labelOverlap":false,"tickSize":-4,"labelPadding":13,"title":null}},
     "y2":{"field":"d"}}},
   {"data":{"name":"al"},"mark":{"type":"rule","color":"white","strokeWidth":1.5},
    "encoding":{"x":{"field":"x","type":"quantitative"},"y":{"field":"u","type":"quantitative"},"y2":{"field":"d"}}},
   {"data":{"values":[{"u":0}]},"mark":{"type":"rule","color":"#1a1a1a","strokeWidth":1.2},
    "encoding":{"y":{"field":"u","type":"quantitative"}}},
   {"data":{"values":[{"x":0}]},"mark":{"type":"rule","color":"black","strokeWidth":2,"strokeDash":[7,4]},
    "encoding":{"x":{"field":"x","type":"quantitative"}}},
   {"data":{"name":"av"},"mark":{"type":"rule","color":"black","strokeWidth":1.2,"strokeDash":[1.5,1.5]},
    "encoding":{"x":{"field":"x","type":"quantitative"}}},
   {"data":{"values":[{"x":17.5,"u":1.65,"t":"Li-2sp"}]},"mark":{"type":"text","font":"Liberation Sans","fontWeight":"bold","fontSize":12,"color":"#111","align":"center","baseline":"middle"},
    "encoding":{"x":{"field":"x","type":"quantitative"},"y":{"field":"u","type":"quantitative"},"text":{"field":"t"}}}
  ]}
 ],
 "bounds":"flush",
 "spacing":13,
 "resolve":{"scale":{"x":"independent","y":"independent","color":"independent","strokeDash":"independent","strokeWidth":"independent"},"legend":{"color":"independent","strokeDash":"independent","strokeWidth":"independent"}}
},
{"vconcat":[
 {"width":483,"height":193,
  "title":{"text":"(b)LiTiO₂","anchor":"start","frame":"group","font":"Liberation Serif","fontSize":20,"fontWeight":"bold","color":"#111","offset":-6,"baseline":"alphabetic"},
  "resolve":{"axis":{"y":"independent"}},
  "layer":[
   {"data":{"name":"bl"},"mark":{"type":"area","interpolate":"monotone","color":"#3c3c3c"},
    "encoding":{
     "x":{"field":"x","type":"quantitative","scale":{"domain":[-25,25],"nice":false,"zero":false},"axis":{"values":[-20,-15,-10,-5,0,5,10,15,20],"labels":false,"tickSize":-4,"title":null}},
     "y":{"field":"u","type":"quantitative","scale":{"domain":[-3,3],"nice":false,"zero":false},"axis":{"orient":"left","values":[-3,-2,-1,0,1,2,3],"labelExpr":"'' + datum.value","labelFontSize":15,"labelOverlap":false,"tickSize":-4,"labelPadding":13,"title":"DOS(1/eV unit cell)","titleFontSize":21.5,"titleX":-52,"titleY":202}},
     "y2":{"field":"d"}}},
   {"data":{"name":"bl"},"mark":{"type":"rule","color":"white","strokeWidth":1.5},
    "encoding":{"x":{"field":"x","type":"quantitative"},"y":{"field":"u","type":"quantitative","axis":{"orient":"left","values":[-2.5,-1.5,-0.5,0.5,1.5,2.5],"labels":false,"domain":false,"tickSize":-4,"title":null}},"y2":{"field":"d"}}},
   {"data":{"name":"bs"},"mark":{"type":"area","interpolate":"monotone","fill":{"gradient":"linear","x1":0,"y1":0,"x2":0.4,"y2":1.2,"stops":[
     {"offset":0,"color":"#fff"},{"offset":0.04,"color":"#fff"},{"offset":0.04,"color":"#3a3a3a"},{"offset":0.05,"color":"#3a3a3a"},
     {"offset":0.05,"color":"#fff"},{"offset":0.09,"color":"#fff"},{"offset":0.09,"color":"#3a3a3a"},{"offset":0.1,"color":"#3a3a3a"},
     {"offset":0.1,"color":"#fff"},{"offset":0.14,"color":"#fff"},{"offset":0.14,"color":"#3a3a3a"},{"offset":0.15,"color":"#3a3a3a"},
     {"offset":0.15,"color":"#fff"},{"offset":0.19,"color":"#fff"},{"offset":0.19,"color":"#3a3a3a"},{"offset":0.2,"color":"#3a3a3a"},
     {"offset":0.2,"color":"#fff"},{"offset":0.24,"color":"#fff"},{"offset":0.24,"color":"#3a3a3a"},{"offset":0.25,"color":"#3a3a3a"},
     {"offset":0.25,"color":"#fff"},{"offset":0.29,"color":"#fff"},{"offset":0.29,"color":"#3a3a3a"},{"offset":0.3,"color":"#3a3a3a"},
     {"offset":0.3,"color":"#fff"},{"offset":0.34,"color":"#fff"},{"offset":0.34,"color":"#3a3a3a"},{"offset":0.35,"color":"#3a3a3a"},
     {"offset":0.35,"color":"#fff"},{"offset":0.39,"color":"#fff"},{"offset":0.39,"color":"#3a3a3a"},{"offset":0.4,"color":"#3a3a3a"},
     {"offset":0.4,"color":"#fff"},{"offset":0.44,"color":"#fff"},{"offset":0.44,"color":"#3a3a3a"},{"offset":0.45,"color":"#3a3a3a"},
     {"offset":0.45,"color":"#fff"},{"offset":0.49,"color":"#fff"},{"offset":0.49,"color":"#3a3a3a"},{"offset":0.5,"color":"#3a3a3a"},
     {"offset":0.5,"color":"#fff"},{"offset":0.54,"color":"#fff"},{"offset":0.54,"color":"#3a3a3a"},{"offset":0.55,"color":"#3a3a3a"},
     {"offset":0.55,"color":"#fff"},{"offset":0.59,"color":"#fff"},{"offset":0.59,"color":"#3a3a3a"},{"offset":0.6,"color":"#3a3a3a"},
     {"offset":0.6,"color":"#fff"},{"offset":0.64,"color":"#fff"},{"offset":0.64,"color":"#3a3a3a"},{"offset":0.65,"color":"#3a3a3a"},
     {"offset":0.65,"color":"#fff"},{"offset":0.69,"color":"#fff"},{"offset":0.69,"color":"#3a3a3a"},{"offset":0.7,"color":"#3a3a3a"},
     {"offset":0.7,"color":"#fff"},{"offset":0.74,"color":"#fff"},{"offset":0.74,"color":"#3a3a3a"},{"offset":0.75,"color":"#3a3a3a"},
     {"offset":0.75,"color":"#fff"},{"offset":0.79,"color":"#fff"},{"offset":0.79,"color":"#3a3a3a"},{"offset":0.8,"color":"#3a3a3a"},
     {"offset":0.8,"color":"#fff"},{"offset":0.84,"color":"#fff"},{"offset":0.84,"color":"#3a3a3a"},{"offset":0.85,"color":"#3a3a3a"},
     {"offset":0.85,"color":"#fff"},{"offset":0.89,"color":"#fff"},{"offset":0.89,"color":"#3a3a3a"},{"offset":0.9,"color":"#3a3a3a"},
     {"offset":0.9,"color":"#fff"},{"offset":0.94,"color":"#fff"},{"offset":0.94,"color":"#3a3a3a"},{"offset":0.95,"color":"#3a3a3a"},
     {"offset":0.95,"color":"#fff"},{"offset":0.99,"color":"#fff"},{"offset":0.99,"color":"#3a3a3a"},{"offset":1,"color":"#3a3a3a"}]}},
    "encoding":{"x":{"field":"x","type":"quantitative"},"y":{"field":"u","type":"quantitative","axis":null},"y2":{"field":"d"}}},
   {"data":{"name":"bp"},"mark":{"type":"line","interpolate":"monotone"},
    "encoding":{"x":{"field":"x","type":"quantitative"},"y":{"field":"u","type":"quantitative","axis":null},
     "color":{"field":"s","type":"ordinal","scale":{"domain":["O-2p","Ti-3d","Ti-4sp","Total"],"range":["#8c8c8c","#3a3a3a","#6a6a6a","#000000"]},"legend":{"title":null,"orient":"none","legendX":410,"legendY":3}},
     "strokeDash":{"field":"s","type":"ordinal","scale":{"domain":["O-2p","Ti-3d","Ti-4sp","Total"],"range":[[5,3],[1,0],[8,3],[1,0]]},"legend":{"title":null,"orient":"none","legendX":410,"legendY":3}},
     "strokeWidth":{"field":"s","type":"ordinal","scale":{"domain":["O-2p","Ti-3d","Ti-4sp","Total"],"range":[1.4,1.2,1.4,2.5]},"legend":{"title":null,"orient":"none","legendX":410,"legendY":3}}}},
   {"data":{"name":"bp"},"mark":{"type":"line","interpolate":"monotone"},
    "encoding":{"x":{"field":"x","type":"quantitative"},"y":{"field":"d","type":"quantitative","axis":null},
     "color":{"field":"s","type":"ordinal","scale":{"domain":["O-2p","Ti-3d","Ti-4sp","Total"],"range":["#8c8c8c","#3a3a3a","#6a6a6a","#000000"]},"legend":{"title":null,"orient":"none","legendX":410,"legendY":3}},
     "strokeDash":{"field":"s","type":"ordinal","scale":{"domain":["O-2p","Ti-3d","Ti-4sp","Total"],"range":[[5,3],[1,0],[8,3],[1,0]]},"legend":{"title":null,"orient":"none","legendX":410,"legendY":3}},
     "strokeWidth":{"field":"s","type":"ordinal","scale":{"domain":["O-2p","Ti-3d","Ti-4sp","Total"],"range":[1.4,1.2,1.4,2.5]},"legend":{"title":null,"orient":"none","legendX":410,"legendY":3}}}},
   {"data":{"values":[{"x":0}]},"mark":{"type":"rule","color":"black","strokeWidth":2,"strokeDash":[7,4]},
    "encoding":{"x":{"field":"x","type":"quantitative"}}},
   {"data":{"name":"bv"},"mark":{"type":"rule","color":"black","strokeWidth":1.2,"strokeDash":[1.5,1.5]},
    "encoding":{"x":{"field":"x","type":"quantitative"},"y":{"field":"top","type":"quantitative","axis":null},"y2":{"datum":-3}}},
   {"data":{"name":"bt"},"mark":{"type":"text","font":"Liberation Sans","fontWeight":"bold","fontSize":13,"color":"#111","align":"center","baseline":"middle"},
    "encoding":{"x":{"field":"x","type":"quantitative"},"y":{"field":"y","type":"quantitative","axis":null},"text":{"field":"t"}}}
  ]},
 {"width":483,"height":193,
  "resolve":{"axis":{"y":"independent"}},
  "layer":[
   {"data":{"name":"bl"},"mark":{"type":"area","interpolate":"monotone","color":"#3c3c3c"},
    "encoding":{
     "x":{"field":"x","type":"quantitative","scale":{"domain":[-25,25],"nice":false,"zero":false},"axis":{"values":[-20,-15,-10,-5,0,5,10,15,20],"labelExpr":"datum.value % 10 == 0 ? '' + datum.value : ''","labelOverlap":false,"tickSize":-4,"labelPadding":18,"labelFontSize":14,"title":"Energy(eV)","titleFontSize":21,"titlePadding":9}},
     "y":{"field":"u","type":"quantitative","scale":{"domain":[-3,3],"nice":false,"zero":false},"axis":{"orient":"left","values":[-3,-2,-1,0,1,2,3],"labelExpr":"'' + datum.value","labelFontSize":15,"labelOverlap":false,"tickSize":-4,"labelPadding":13,"title":null}},
     "y2":{"field":"d"}}},
   {"data":{"name":"bl"},"mark":{"type":"rule","color":"white","strokeWidth":1.5},
    "encoding":{"x":{"field":"x","type":"quantitative"},"y":{"field":"u","type":"quantitative","axis":{"orient":"left","values":[-2.5,-1.5,-0.5,0.5,1.5,2.5],"labels":false,"domain":false,"tickSize":-4,"title":null}},"y2":{"field":"d"}}},
   {"data":{"values":[{"u":0}]},"mark":{"type":"rule","color":"#1a1a1a","strokeWidth":1.2},
    "encoding":{"y":{"field":"u","type":"quantitative","axis":null}}},
   {"data":{"values":[{"x":0}]},"mark":{"type":"rule","color":"black","strokeWidth":2,"strokeDash":[7,4]},
    "encoding":{"x":{"field":"x","type":"quantitative"}}},
   {"data":{"name":"bv"},"mark":{"type":"rule","color":"black","strokeWidth":1.2,"strokeDash":[1.5,1.5]},
    "encoding":{"x":{"field":"x","type":"quantitative"}}},
   {"data":{"values":[{"x":22.1,"u":2.47,"t":"Li-2sp"}]},"mark":{"type":"text","font":"Liberation Sans","fontWeight":"bold","fontSize":12,"color":"#111","align":"center","baseline":"middle"},
    "encoding":{"x":{"field":"x","type":"quantitative"},"y":{"field":"u","type":"quantitative","axis":null},"text":{"field":"t"}}}
  ]}
 ],
 "bounds":"flush",
 "spacing":13,
 "resolve":{"scale":{"x":"independent","y":"independent","color":"independent","strokeDash":"independent","strokeWidth":"independent"},"legend":{"color":"independent","strokeDash":"independent","strokeWidth":"independent"}}
}
]
}
